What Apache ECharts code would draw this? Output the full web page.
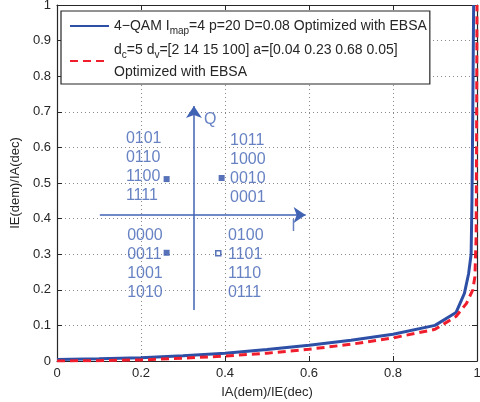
<!DOCTYPE html>
<html><head><meta charset="utf-8">
<script src="https://cdn.jsdelivr.net/npm/echarts@6/dist/echarts.min.js"></script>
<style>html,body{margin:0;padding:0;background:#fff}#c{width:480px;height:402px}</style>
</head><body><div id="c"></div>
<script>
// ---- data ----
const iaBlue = [0,0.1,0.2,0.3,0.4,0.5,0.6,0.7,0.8,0.9,0.95,0.97,0.98,0.986,0.988,0.99,0.992];
const ieBlue = [0.004,0.006,0.009,0.015,0.022,0.032,0.044,0.058,0.075,0.1,0.136,0.19,0.245,0.3,0.45,0.7,1.0];
const iaRed  = [0,0.1,0.2,0.3,0.4,0.5,0.6,0.7,0.8,0.9,0.95,0.975,0.99,0.995,0.998,0.999,1.0];
const ieRed  = [0,0.001,0.003,0.008,0.014,0.022,0.033,0.047,0.065,0.089,0.125,0.162,0.2,0.237,0.35,0.6,1.0];
const xTicks = [0,0.2,0.4,0.6,0.8,1];
const yTicks = [0,0.1,0.2,0.3,0.4,0.5,0.6,0.7,0.8,0.9,1];
const seriesNames = ['blue','red'];
// constellation inset (annotation)
const blockPos = [[0.164,0.546],[0.412,0.539],[0.167,0.272],[0.407,0.272]];
const blockText = [
  '0101\n0110\n1100\n1111',
  '1011\n1000\n0010\n0001',
  '0000\n0011\n1001\n1010',
  '0100\n1101\n1110\n0111'];
const filledPts = [[0.261,0.511],[0.392,0.514],[0.261,0.304]];
const hollowPts = [[0.384,0.303]];
const axisArrows = [[[0.326,0.143],[0.326,0.716]],[[0.102,0.41],[0.592,0.41]]];
const axisArrowLabels = [['Q',0.365,0.677],['I',0.563,0.378]];

const BLUE = '#2d4fa6', RED = '#f01e2c', INSET = '#4163b4';
const font = 'Liberation Sans, Arial, Helvetica, sans-serif';
const zip = (a,b)=>a.map((v,i)=>[v,b[i]]);

const chart = echarts.init(document.getElementById('c'), null, {renderer:'canvas'});
const baseAxis = {
  min:0, max:1,
  axisLine:{show:true, onZero:false, lineStyle:{color:'#262626', width:1.2}},
  axisTick:{show:true, inside:true, length:5, lineStyle:{color:'#262626'}},
  splitLine:{show:false},
  axisLabel:{show:false}
};
chart.setOption({
  animation:false,
  grid:{left:57, right:3, top:5, bottom:41, outerBoundsMode:'none', containLabel:false},
  xAxis:[
    Object.assign({}, baseAxis, {type:'value', position:'bottom', interval:0.2,
      name:'IA(dem)/IE(dec)', nameLocation:'middle', nameGap:25,
      nameTextStyle:{color:'#262626', fontSize:13, fontFamily:font},
      axisLabel:{show:true, color:'#262626', fontSize:13, fontFamily:font, margin:6,
        formatter:v=>xTicks.includes(+v.toFixed(1))?String(+v.toFixed(1)):''},
      splitLine:{show:true, lineStyle:{color:'#8a8a8a', type:[1,3], width:1}}}),
    Object.assign({}, baseAxis, {type:'value', position:'top', interval:0.2})
  ],
  yAxis:[
    Object.assign({}, baseAxis, {type:'value', position:'left', interval:0.1,
      name:'IE(dem)/IA(dec)', nameLocation:'middle', nameGap:23, nameRotate:90,
      nameTextStyle:{color:'#262626', fontSize:13, fontFamily:font},
      axisLabel:{show:true, color:'#262626', fontSize:13, fontFamily:font, margin:6,
        formatter:v=>String(+v.toFixed(1))},
      splitLine:{show:true, lineStyle:{color:'#8a8a8a', type:[1,3], width:1}}}),
    Object.assign({}, baseAxis, {type:'value', position:'right', interval:0.1})
  ],
  legend:{
    show:true, orient:'vertical', left:61, top:11,
    data:seriesNames,
    padding:[5,3,5,8], itemGap:4, itemWidth:39, itemHeight:14,
    itemStyle:{opacity:0},
    backgroundColor:'#fff', borderColor:'#262626', borderWidth:1.2, borderRadius:0,
    formatter:function(n){
      if(n==='blue') return '{t|4−QAM I}{s|map}{t|=4 p=20 D=0.08 Optimized with EBSA}';
      return '{t|d}{s|c}{t|=5 d}{s|v}{t|=[2 14 15 100] a=[0.04 0.23 0.68 0.05]}\n{t|Optimized with EBSA}';
    },
    textStyle:{color:'#262626', fontFamily:font, fontSize:14,
      rich:{
        t:{fontSize:14, fontFamily:font, color:'#262626', lineHeight:22},
        s:{fontSize:10, fontFamily:font, color:'#262626', lineHeight:12, padding:[10,0,0,0]}
      }}
  },
  series:[
    {name:'blue', type:'line', data:zip(iaBlue,ieBlue), showSymbol:false, symbol:'none',
      lineStyle:{color:BLUE, width:3}, itemStyle:{color:BLUE}, z:4},
    {name:'red', type:'line', data:zip(iaRed,ieRed), showSymbol:false, symbol:'none',
      lineStyle:{color:RED, width:3, type:[8,5]}, itemStyle:{color:RED}, z:5},
    {name:'arrows', type:'lines', coordinateSystem:'cartesian2d', polyline:false,
      symbol:['none','arrow'], symbolSize:12,
      lineStyle:{color:INSET, width:1.5, opacity:1, curveness:0},
      data:axisArrows.map(c=>({coords:c})), z:3, silent:true},
    {name:'blocks', type:'scatter', symbolSize:0, silent:true, z:6,
      data:blockPos.map((p,i)=>({value:p, label:{formatter:blockText[i]}})),
      label:{show:true, position:'right', distance:0, align:'left', verticalAlign:'middle',
        color:INSET, fontSize:16, lineHeight:19, fontFamily:font}},
    {name:'axlabels', type:'scatter', symbolSize:0, silent:true, z:6,
      data:axisArrowLabels.map(a=>({value:[a[1],a[2]], label:{formatter:a[0]}})),
      label:{show:true, position:'inside', color:INSET, fontSize:16, fontFamily:font}},
    {name:'filled', type:'scatter', symbol:'rect', symbolSize:6, silent:true, z:6,
      itemStyle:{color:BLUE}, data:filledPts},
    {name:'hollow', type:'scatter', symbol:'rect', symbolSize:5, silent:true, z:6,
      itemStyle:{color:'#fff', borderColor:BLUE, borderWidth:1.5}, data:hollowPts}
  ]
});
</script></body></html>
